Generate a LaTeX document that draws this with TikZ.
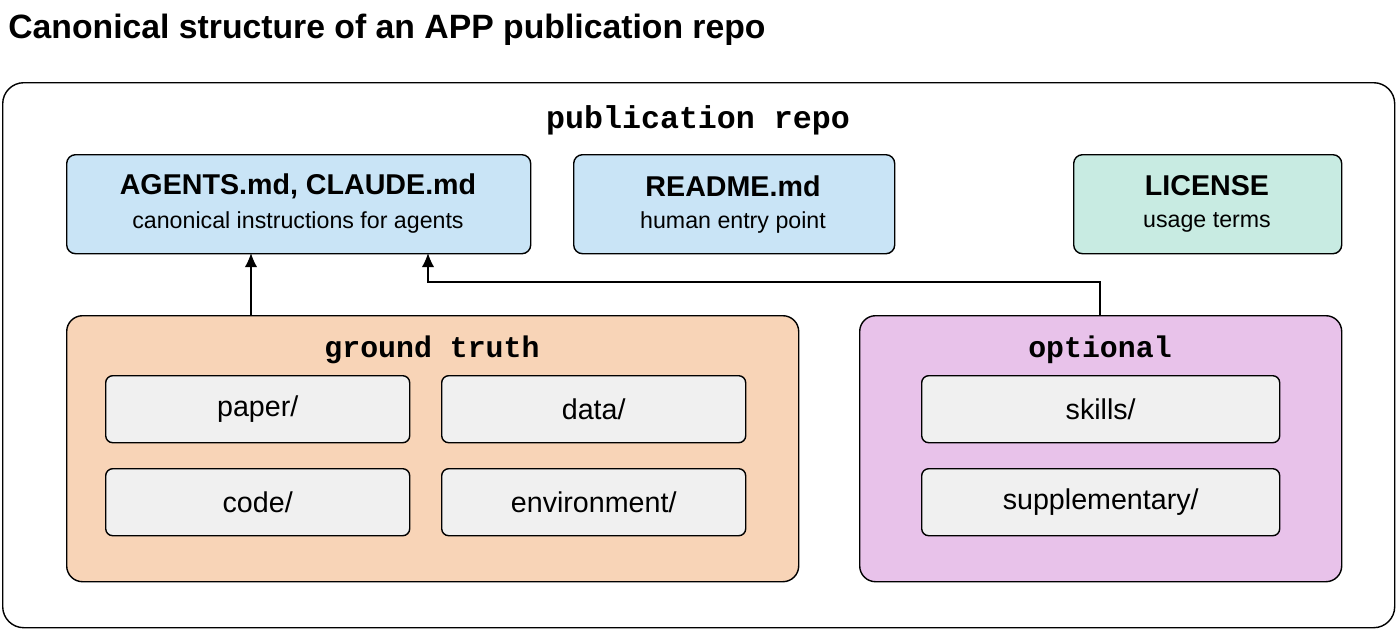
\documentclass[tikz,border=0pt]{standalone}
\usepackage{fontspec}
\setmainfont{Liberation Sans}
\newfontfamily\monofont{Liberation Mono}
\usetikzlibrary{positioning,arrows.meta}
\definecolor{docblue}{HTML}{C9E4F6}
\definecolor{licteal}{HTML}{C8EBE2}
\definecolor{truthorange}{HTML}{F8D4B7}
\definecolor{optpurple}{HTML}{E8C2EA}
\definecolor{dirgray}{HTML}{F0F0F0}
\begin{document}
\begin{tikzpicture}[x=0.02cm,y=-0.02cm]

    \tikzstyle{group}=[draw,thick,rounded corners=9pt,anchor=north west,inner sep=0pt]
    \tikzstyle{file}=[draw,thick,rounded corners=5pt,anchor=north west,inner sep=0pt]
    \tikzstyle{dir}=[draw,thick,fill=dirgray,rounded corners=4pt,anchor=north west,inner sep=0pt,minimum width=304*0.02cm,minimum height=67*0.02cm]
    \tikzstyle{grouplabel}=[font=\monofont\bfseries\fontsize{17}{20}\selectfont]
    \tikzstyle{filename}=[font=\bfseries\fontsize{16.3}{19}\selectfont]
    \tikzstyle{filenote}=[font=\fontsize{13.2}{16}\selectfont]
    \tikzstyle{dirname}=[font=\fontsize{16.3}{19}\selectfont]
    \tikzstyle{link}=[thick,-{Latex[length=8pt,width=7pt]}]

\useasboundingbox (0,0) rectangle (1400,630);

\node (title) [anchor=west,inner sep=0pt,font=\bfseries\fontsize{19.2}{22}\selectfont] at (8,30) {Canonical structure of an APP publication repo};

\node (repo) [group,rounded corners=12pt,minimum width=1392*0.02cm,minimum height=545*0.02cm] at (2,82) {};
\node (repo_label) [grouplabel,font=\monofont\bfseries\fontsize{18}{20}\selectfont] at (698,120) {publication repo};

% top files
\node (agents) [file,fill=docblue,minimum width=464*0.02cm,minimum height=99*0.02cm] at (66,154) {};
\node [filename] at (298,186) {AGENTS.md, CLAUDE.md};
\node [filenote] at (298,222) {canonical instructions for agents};

\node (readme) [file,fill=docblue,minimum width=321*0.02cm,minimum height=99*0.02cm] at (573,154) {};
\node [filename] at (733,186) {README.md};
\node [filenote] at (733,222) {human entry point};

\node (license) [file,fill=licteal,minimum width=268*0.02cm,minimum height=99*0.02cm] at (1073,154) {};
\node [filename] at (1207,186) {LICENSE};
\node [filenote] at (1207,222) {usage terms};

% ground truth
\node (truth) [group,fill=truthorange,minimum width=732*0.02cm,minimum height=266*0.02cm] at (66,315) {};
\node (truth_label) [grouplabel] at (432,350) {ground truth};
\node (paper) [dir] at (105,375) {};
\node [dirname] at (paper.center) {paper/};
\node (data) [dir] at (441,375) {};
\node [dirname] at (data.center) {data/};
\node (code) [dir] at (105,468) {};
\node [dirname] at (code.center) {code/};
\node (env) [dir] at (441,468) {};
\node [dirname] at (env.center) {environment/};

% optional
\node (opt) [group,fill=optpurple,minimum width=482*0.02cm,minimum height=266*0.02cm] at (859,315) {};
\node (opt_label) [grouplabel] at (1100,350) {optional};
\node (skills) [dir,minimum width=358*0.02cm] at (921,375) {};
\node [dirname] at (skills.center) {skills/};
\node (supp) [dir,minimum width=358*0.02cm] at (921,468) {};
\node [dirname] at (supp.center) {supplementary/};

\draw[link] (truth.north west)++(185,0) --++(0,-62);
\draw[link] (opt.north west)++(241,0) --++(0,-33) -| (428,253);

\end{tikzpicture}
\end{document}
